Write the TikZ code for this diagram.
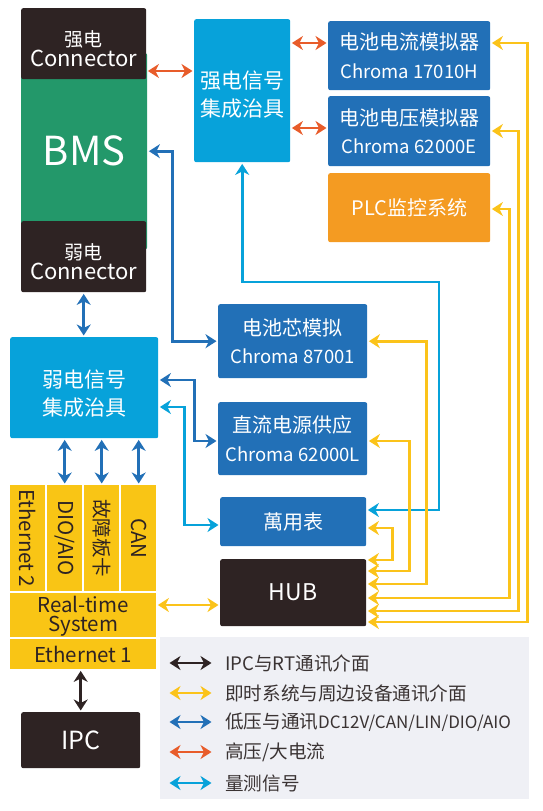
\documentclass[tikz,border=0pt]{standalone}
\usepackage{fontspec}
\setmainfont{Noto Sans CJK SC}
\usetikzlibrary{arrows.meta}
\definecolor{boxdark}{HTML}{2E2323}
\definecolor{bmsgreen}{HTML}{23986A}
\definecolor{jigcyan}{HTML}{07A2DA}
\definecolor{devblue}{HTML}{2270B7}
\definecolor{plcorange}{HTML}{F49B22}
\definecolor{ioyellow}{HTML}{F9C515}
\definecolor{hvred}{HTML}{E85C2A}
\definecolor{rtyellow}{HTML}{FBC31A}
\definecolor{legendbg}{HTML}{EFF0F5}
\definecolor{legendtext}{HTML}{3A3333}
\tikzset{
  >={Stealth[length=11pt,width=14pt,inset=3.5pt]},
  {base box/.style} ={rectangle, rounded corners=2pt, anchor=north west,
                inner sep=0pt, align=center, text=white},
  {dark box/.style} ={base box, fill=boxdark},
  {bms box/.style} ={base box, fill=bmsgreen},
  {jig box/.style} ={base box, fill=jigcyan,
                font=\fontsize{21}{28}\selectfont},
  {dev box/.style} ={base box, fill=devblue,
                font=\fontsize{20}{28.5}\selectfont},
  {plc box/.style} ={base box, fill=plcorange,
                font=\fontsize{20}{24}\selectfont},
  {io box/.style} ={base box, rounded corners=0pt, fill=ioyellow,
                text=boxdark, font=\fontsize{20.5}{19}\selectfont},
  {conn box/.style} ={dark box, font=\fontsize{19}{20}\selectfont},
  {wh/.style 2 args} ={minimum width=#1pt, minimum height=#2pt},
  {link/.style} ={line width=2.8pt, <->, shorten <=1.5pt, shorten >=1.5pt},
  {hv link/.style} ={link, hvred},
  {lv link/.style} ={link, devblue},
  {rt link/.style} ={link, rtyellow},
  {meas link/.style} ={link, jigcyan},
  {ipc link/.style} ={link, boxdark},
  {legend text/.style} ={anchor=west, inner sep=0pt, text=legendtext,
                font=\fontsize{18.6}{22}\selectfont},
}
\newcommand{\latinline}{\fontsize{22}{20}\selectfont}
\newcommand{\modelline}{\fontsize{18.5}{28.5}\selectfont}
\newcommand{\legendlatin}{\fontsize{17}{22}\selectfont}
\newcommand{\toppad}[1]{\rule{0pt}{#1pt}}

\begin{document}
\begin{tikzpicture}[x=1pt, y=-1pt]
\useasboundingbox (0,0) rectangle (542,811);

% BMS and its connectors
\node[bms box, wh={126}{196}, font=\fontsize{40}{40}\selectfont] (bms) at (21,53) {BMS};
\node[conn box, wh={125}{71}] (hvconn) at (21,8) {\toppad{25}强电\\\latinline Connector};
\node[conn box, wh={125}{71}] (lvconn) at (21,221) {\toppad{25}弱电\\\latinline Connector};

% fixtures
\node[jig box, wh={96}{143}] (hvjig) at (194,19) {\toppad{24.5}强电信号\\集成治具};
\node[jig box, wh={148}{101}] (lvjig) at (10,337) {\toppad{28.5}弱电信号\\集成治具};

% instruments
\node[dev box, wh={162}{69}] (cur) at (328,21) {电池电流模拟器\\\modelline Chroma 17010H};
\node[dev box, wh={162}{70}] (volt) at (328,96) {电池电压模拟器\\\modelline Chroma 62000E};
\node[plc box, wh={162}{69}] (plc) at (328,173) {PLC监控系统};
\node[dev box, wh={149}{74}] (cell) at (218,304) {电池芯模拟\\\modelline Chroma 87001};
\node[dev box, wh={149}{73}] (dcsup) at (218,402) {直流电源供应\\\modelline Chroma 62000L};
\node[dev box, wh={146}{49}] (meter) at (220,497) {萬用表};
\node[dark box, wh={146}{67}, font=\fontsize{23}{23}\selectfont] (hub) at (220,559) {HUB};

% real-time system
\node[io box, wh={35}{106}] (col1) at (10,485) {\rotatebox{-90}{Ethernet 2}};
\node[io box, wh={35}{106}] (col2) at (47,485) {\rotatebox{-90}{DIO/AIO}};
\node[io box, wh={35}{106}, font=\fontsize{19.5}{19}\selectfont] (col3) at (84,485) {\rotatebox{-90}{故障板卡}};
\node[io box, wh={35}{106}] (col4) at (121,485) {\rotatebox{-90}{CAN}};
\node[io box, wh={146}{44}] (rts) at (10,593) {\toppad{19}Real-time\\System};
\node[io box, wh={146}{30}] (eth1) at (10,639) {Ethernet 1};
\node[dark box, wh={119}{56}, font=\fontsize{25}{25}\selectfont] (ipc) at (21,712) {IPC};

% high voltage
\draw[hv link] (hvconn.east |- 0,71) -- (hvjig.west |- 0,71);
\draw[hv link] (hvjig.east |- 0,43) -- (cur.west |- 0,43);
\draw[hv link] (hvjig.east |- 0,128) -- (volt.west |- 0,128);

% low voltage / communication
\draw[lv link] (bms.east) -- ++(25,0) |- (cell.west);
\draw[lv link] (lvjig.east |- 0,380) -- ++(36,0) |- (dcsup.west |- 0,441);
\draw[lv link] (lvconn.south) -- (lvjig.north -| lvconn.south);
\draw[lv link] (lvjig.south -| col2.north) -- (col2.north);
\draw[lv link] (lvjig.south -| col3.north) -- (col3.north);
\draw[lv link] (lvjig.south -| col4.north) -- (col4.north);

% measurement
\coordinate (mbend) at (439,282);
\draw[meas link] (hvjig.south) |- (mbend) |- (meter.east |- 0,510);
\draw[meas link] (lvjig.east |- 0,407) -- ++(26,0) |- (meter.west |- 0,525);

% real-time bus
\draw[rt link] (cur.east |- 0,43) -- ++(37,0) |- (hub.east |- 0,622);
\draw[rt link] (volt.east |- 0,131) -- ++(28,0) |- (hub.east |- 0,611);
\draw[rt link] (plc.east |- 0,209) -- ++(19,0) |- (hub.east |- 0,598);
\draw[rt link] (cell.east) -- ++(59,0) |- (hub.east |- 0,584);
\draw[rt link] (dcsup.east |- 0,441) -- ++(42,0) |- (hub.east |- 0,571);
\draw[rt link] (meter.east |- 0,528) -- ++(26,0) |- (hub.east |- 0,560);
\draw[rt link] (rts.east |- 0,605) -- (hub.west |- 0,605);
\draw[ipc link] (eth1.south -| ipc.north) -- (ipc.north);

% legend
\node[fill=legendbg, anchor=north west, inner sep=0pt, minimum width=369pt, minimum height=162pt] (legend) at (160,637) {};
\node[legend text] (lg1) at (225,663) {IPC与RT通讯介面};
\node[legend text] (lg2) at (225,693) {即时系统与周边设备通讯介面};
\node[legend text] (lg3) at (225,722) {低压与通讯{\legendlatin DC12V/CAN/LIN/DIO/AIO}};
\node[legend text] (lg4) at (225,752) {高压/大电流};
\node[legend text] (lg5) at (225,783) {量测信号};
\draw[ipc link] (168,663) -- ([xshift=-12pt]lg1.west);
\draw[rt link] (168,693) -- ([xshift=-12pt]lg2.west);
\draw[lv link] (168,722) -- ([xshift=-12pt]lg3.west);
\draw[hv link] (168,752) -- ([xshift=-12pt]lg4.west);
\draw[meas link] (168,783) -- ([xshift=-12pt]lg5.west);
\end{tikzpicture}
\end{document}
